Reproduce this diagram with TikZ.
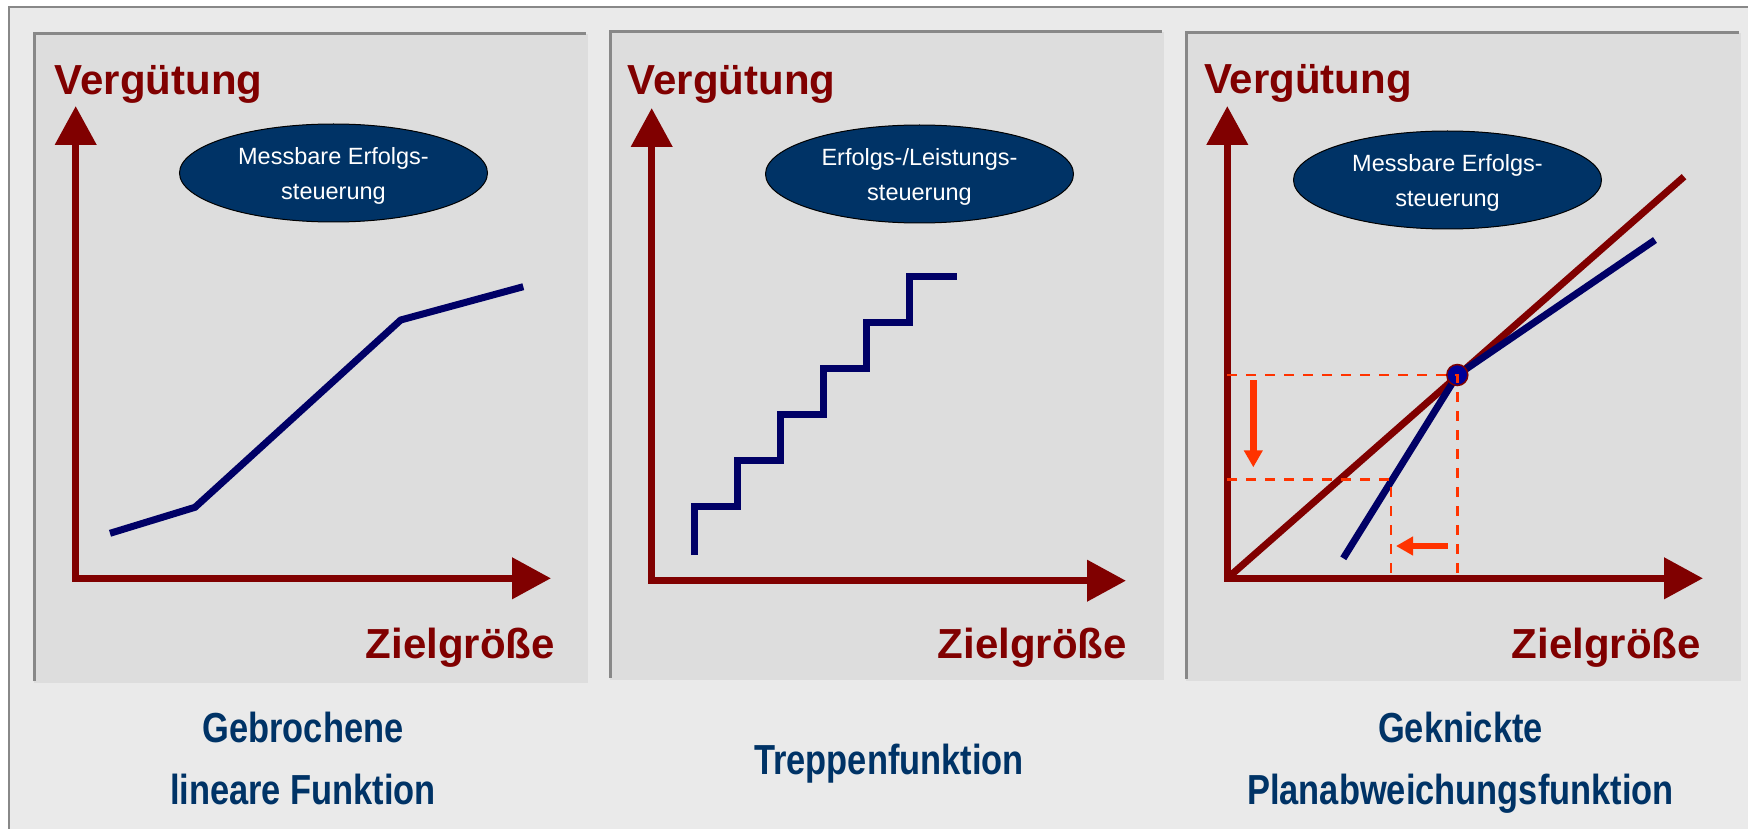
\documentclass[tikz,border=0pt]{standalone}
\usepackage{fontspec}
\setmainfont{Liberation Sans}
\newfontfamily\schmal[FakeStretch=0.82]{Liberation Sans}
\usetikzlibrary{arrows.meta,shapes.geometric}
\definecolor{dunkelrot}{HTML}{800000}
\definecolor{marine}{HTML}{000066}
\definecolor{tintenblau}{HTML}{003366}
\definecolor{signal}{HTML}{FF3300}
\definecolor{rahmengrau}{HTML}{888888}
\definecolor{hellgrau}{HTML}{EAEAEA}
\definecolor{feldgrau}{HTML}{DDDDDD}
\definecolor{punktblau}{HTML}{000099}
\tikzset{
  feldrand/.style={draw=rahmengrau,line width=3pt},
  achse/.style={dunkelrot,line width=7.5pt,
    {Triangle[length=39pt,width=40pt]}-{Triangle[length=39pt,width=40pt]}},
  kurve/.style={marine,line width=7pt},
  gerade/.style={dunkelrot,line width=7pt},
  hilfslinie/.style={signal,line width=2.5pt,dash pattern=on 10pt off 9pt},
  hinweis/.style={signal,line width=6.5pt,-{Triangle[length=17pt,width=18pt]}},
  punkt/.style={circle,fill=punktblau,draw=dunkelrot,line width=1.5pt,
    minimum size=21pt,inner sep=0pt},
  ziel/.style={ellipse,draw=black,line width=1pt,fill=tintenblau,text=white,
    minimum width=308pt,minimum height=98pt,inner sep=0pt,align=center,
    font=\fontsize{23.5}{34.3}\selectfont},
  achstext/.style={text=dunkelrot,inner sep=0pt,
    font=\bfseries\fontsize{42}{50}\selectfont},
  titel/.style={text=tintenblau,inner sep=0pt,align=center,anchor=north,
    font=\schmal\bfseries\fontsize{42}{61.7}\selectfont}
}
\def\stufe{-- ++(43.1,0) -- ++(0,-45.86)}
\def\dkurve{\draw[kurve]}
\def\hoch{\rule{0pt}{23pt}}

\begin{document}
\begin{tikzpicture}[x=1pt,y=-1pt]
  \useasboundingbox (0,0) rectangle (1748,829);
  \clip (0,0) rectangle (1748,829);
  \fill[white] (0,0) rectangle (1748,829);
  \draw[draw=rahmengrau,line width=2.5pt,fill=hellgrau] (9,7) rectangle (1770,850);

  % drei Felder, Rand nur oben und links
  \fill[feldgrau] (34,34) rectangle (588,683);
  \draw[feldrand] (34,681) -- (34,34) -- (586,34);
  \fill[feldgrau] (610,32) rectangle (1164,680);
  \draw[feldrand] (610,678) -- (610,32) -- (1162,32);
  \fill[feldgrau] (1186,33) rectangle (1741,681);
  \draw[feldrand] (1186,679) -- (1186,33) -- (1739,33);

  \coordinate (o1) at (75.7,578.3);   \coordinate (y1) at (75.7,106);   \coordinate (x1) at (551,578.3);
  \coordinate (o2) at (651.7,580.7);  \coordinate (y2) at (651.7,108);  \coordinate (x2) at (1126,580.7);
  \coordinate (o3) at (1227.3,578.3); \coordinate (y3) at (1227.3,106); \coordinate (x3) at (1703,578.3);

  \draw[achse] (y1) -- (o1) -- (x1);
  \draw[achse] (y2) -- (o2) -- (x2);
  \draw[achse] (y3) -- (o3) -- (x3);

  \node[achstext,anchor=base west] (v1) at (54.7,95) {Vergütung};
  \node[achstext,anchor=base west] (v2) at (627.6,95) {Vergütung};
  \node[achstext,anchor=base west] (v3) at (1204,94) {Vergütung};
  \node[achstext,anchor=base east] (z1) at (555,658) {Zielgröße};
  \node[achstext,anchor=base east] (z2) at (1127,658) {Zielgröße};
  \node[achstext,anchor=base east] (z3) at (1701,658) {Zielgröße};

  \node[ziel] (e1) at (333.5,173) {\hoch Messbare Erfolgs-\\steuerung};
  \node[ziel] (e2) at (919.5,174) {\hoch Erfolgs-/Leistungs-\\steuerung};
  \node[ziel] (e3) at (1447.5,180) {\hoch Messbare Erfolgs-\\steuerung};

  % gebrochen linear
  \dkurve (110,533.3) -- (195,507.3) -- (400.7,320) -- (523.3,286.7);

  % Treppe
  \dkurve (694.3,555) -- ++(0,-49) \stufe\stufe\stufe\stufe\stufe -- ++(46.9,0);

  % geknickt
  \coordinate (k) at (1457.3,375);
  \coordinate (ku) at (1391,479.7);
  \coordinate (r3) at (1684,176.7);
  \coordinate (b3a) at (1343.3,558.3);
  \coordinate (b3e) at (1655,240);
  \draw[gerade] (o3) -- (r3);
  \dkurve (b3a) -- (k) -- (b3e);
  \node[punkt] (knick) at (k) {};
  \draw[hilfslinie] (o3 |- k) -- (k) -- (k |- o3);
  \draw[hilfslinie] (o3 |- ku) -- (ku) -- (ku |- o3);
  \coordinate (pa) at (1253.3,380);   \coordinate (pb) at (1253.3,467.3);
  \coordinate (pc) at (1447.7,546);   \coordinate (pd) at (1396,546);
  \draw[hinweis] (pa) -- (pb);
  \draw[hinweis] (pc) -- (pd);

  \node[titel] (t1) at (303,712) {Gebrochene\\lineare Funktion};
  \node[titel] (t2) at (889,744) {Treppenfunktion};
  \node[titel] (t3) at (1460.5,712) {Geknickte\\Planabweichungsfunktion};
\end{tikzpicture}
\end{document}
